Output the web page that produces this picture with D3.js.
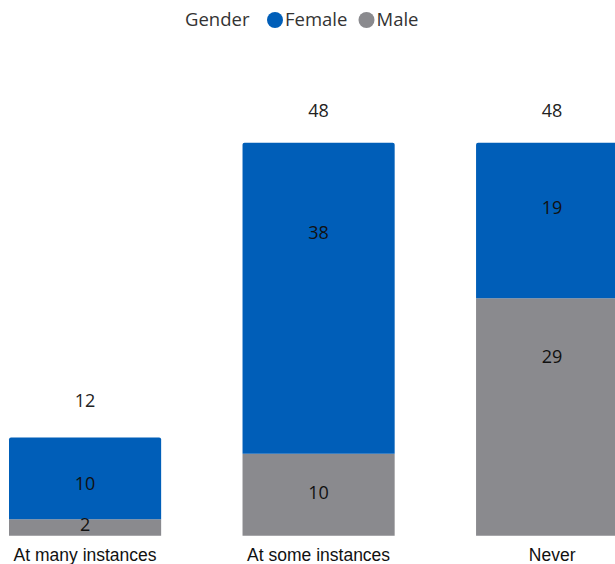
<!DOCTYPE html>
<html><head><meta charset="utf-8">
<script src="https://cdn.jsdelivr.net/npm/d3@7"></script>
<style>body{margin:0;background:#fff;overflow:hidden}svg{display:block}</style>
</head><body>
<script>
const categories = ["At many instances", "At some instances", "Never"];
const female = [10, 38, 19];
const male = [2, 10, 29];
const seriesNames = ["Female", "Male"];
const legendTitle = "Gender";

// layout: value-space anchors for labels (as placed in the reference)
const femaleLabelAt = [6.3, 37.0, 40.1];
const maleLabelAt = [1.4, 5.2, 21.9];
const totalLabelAt = [16.5, 51.9, 51.9];

const W = 615, H = 564;
const colors = {Female: "#005EB8", Male: "#8A8A8E"};
const svg = d3.select("body").append("svg").attr("width", W).attr("height", H);

const x = d3.scaleBand().domain(categories).range([9, 628.2]).paddingInner(0.3485).paddingOuter(0);
const y = d3.scaleLinear().domain([0, 48]).range([535.7, 142.7]);

const rows = categories.map((c, i) => ({cat: c, Female: female[i], Male: male[i]}));
const stack = d3.stack().keys(["Male", "Female"])(rows);

const dataFont = "'Segoe UI','Open Sans','Noto Sans',sans-serif";

// bars
stack.forEach(layer => {
  const key = layer.key;
  svg.append("g").selectAll("path").data(layer).join("path")
    .attr("fill", colors[key])
    .attr("d", d => {
      const x0 = x(d.data.cat), w = x.bandwidth();
      const yt = y(d[1]), yb = y(d[0]);
      if (key === "Female") {
        const r = 2;
        return `M${x0},${yb}V${yt + r}Q${x0},${yt} ${x0 + r},${yt}H${x0 + w - r}Q${x0 + w},${yt} ${x0 + w},${yt + r}V${yb}Z`;
      }
      return `M${x0},${yb}V${yt}H${x0 + w}V${yb}Z`;
    });
});

// labels
const lab = svg.append("g").attr("font-family", dataFont).attr("font-size", 18).attr("fill", "#111")
  .attr("text-anchor", "middle");
categories.forEach((c, i) => {
  const cx = x(c) + x.bandwidth() / 2;
  lab.append("text").attr("x", cx).attr("y", y(femaleLabelAt[i])).attr("dy", "0.35em").text(female[i]);
  lab.append("text").attr("x", cx).attr("y", y(maleLabelAt[i])).attr("dy", "0.35em").text(male[i]);
  lab.append("text").attr("x", cx).attr("y", y(totalLabelAt[i])).attr("dy", "0.35em")
    .attr("fill", "#222").text(female[i] + male[i]);
});

// x axis labels
const xAxis = d3.axisBottom(x).tickSize(0).tickPadding(13);
const gx = svg.append("g").attr("transform", `translate(0,${y(0)})`).call(xAxis);
gx.select(".domain").remove();
gx.selectAll("text").attr("font-family", "'Liberation Sans',Arial,sans-serif").attr("font-size", 17.5)
  .attr("fill", "#111");

// legend
const lg = svg.append("g").attr("font-family", dataFont).attr("font-size", 18.5).attr("fill", "#333");
lg.append("text").attr("x", 185).attr("y", 20).attr("dy", "0.35em").text(legendTitle);
const legX = [275, 366.5];
seriesNames.forEach((s, i) => {
  lg.append("circle").attr("cx", legX[i]).attr("cy", 20).attr("r", 8).attr("fill", colors[s]);
  lg.append("text").attr("x", legX[i] + 10).attr("y", 20).attr("dy", "0.35em").text(s);
});
</script>
</body></html>
